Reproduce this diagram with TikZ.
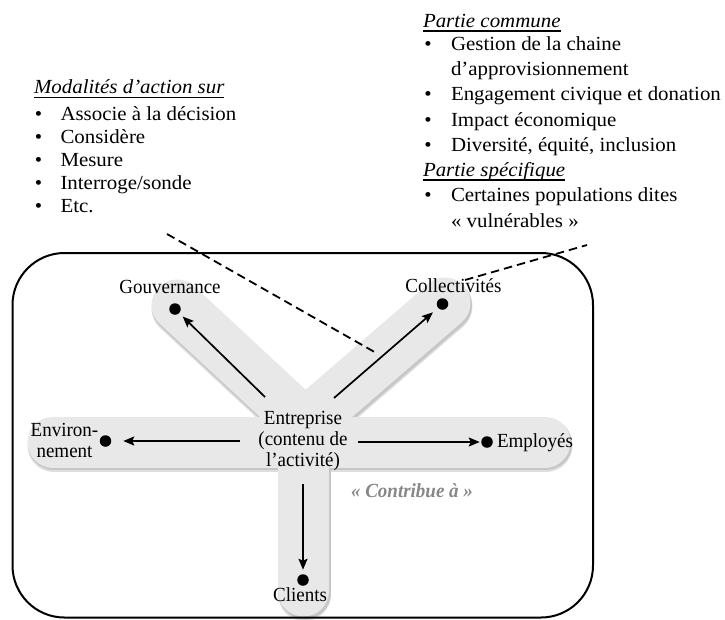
\documentclass[tikz,border=0pt]{standalone}
\usepackage{fontspec}
\setmainfont{Liberation Serif}
\newfontfamily\listfont[FakeStretch=1.045]{Liberation Serif}
\newfontfamily\lblfont[FakeStretch=0.95]{Liberation Serif}
\usetikzlibrary{arrows.meta}
\definecolor{yfill}{RGB}{232,232,232}
\definecolor{shA}{RGB}{222,222,222}
\definecolor{shB}{RGB}{198,198,198}
\definecolor{cgray}{RGB}{135,135,135}
\newcommand{\hdul}[1]{\setbox0\hbox{#1}\rlap{\rule[-4.5pt]{\wd0}{1.2pt}}\box0}
\begin{document}
\begin{tikzpicture}[x=1pt,y=-1pt,
  lst/.style={anchor=base west, inner sep=0pt, outer sep=0pt, font=\listfont\fontsize{20}{23}\selectfont},
  bul/.style={anchor=base, inner sep=0pt, outer sep=0pt, font=\listfont\fontsize{20}{23}\selectfont},
  lbl/.style={inner sep=0pt, outer sep=0pt, font=\lblfont\fontsize{20}{21}\selectfont},
  dotn/.style={circle, fill=black, inner sep=0pt, outer sep=0pt, minimum size=11.5pt},
  arr/.style={line width=1.7pt, -{Stealth[length=11pt,width=9pt,inset=2pt]}},
  dsh/.style={line width=1.8pt, dash pattern=on 8.5pt off 5pt},
  arm/.style={line cap=round}
]
\useasboundingbox (0,0) rectangle (725,619);

% ---------- Y shape (shadow layers + fill) ----------
\foreach \dx/\dy/\w/\c in {1/3.5/53/shA, 1/2.2/52/shB, 0/0/51/yfill}{
  \begin{scope}[shift={(\dx,\dy)}]
    \draw[arm, line width=\w pt, draw=\c] (177,305) -- (305,424);
    \draw[arm, line width=\w pt, draw=\c] (445,303) -- (305,424);
    \draw[arm, line width=\w pt, draw=\c] (53,442) -- (545,442);
    \draw[arm, line width=\w pt, draw=\c] (303.5,442) -- (303.5,591);
  \end{scope}
}

% ---------- frame ----------
\draw[line width=2pt, rounded corners=52pt] (12.5,253) rectangle (593,617.5);

% ---------- left list ----------
\node[lst] (hL) at (34,93.5) {\itshape\hdul{Modalités d’action sur}};
\node[bul] (bL1) at (38.5,120.5) {•};
\node[lst] (tL1) at (60.5,120.5) {Associe à la décision};
\node[bul] (bL2) at (38.5,143.5) {•};
\node[lst] (tL2) at (60.5,143.5) {Considère};
\node[bul] (bL3) at (38.5,166.5) {•};
\node[lst] (tL3) at (60.5,166.5) {Mesure};
\node[bul] (bL4) at (38.5,189.5) {•};
\node[lst] (tL4) at (60.5,189.5) {Interroge/sonde};
\node[bul] (bL5) at (38.5,212.5) {•};
\node[lst] (tL5) at (60.5,212.5) {Etc.};

% ---------- right list ----------
\node[lst] (hR1) at (423,27) {\itshape\hdul{Partie commune}};
\node[bul] (bR1) at (428,50.5) {•};
\node[lst] (tR1) at (451,50.5) {Gestion de la chaine};
\node[lst] (tR1b) at (451,75) {d’approvisionnement};
\node[bul] (bR2) at (428,100) {•};
\node[lst] (tR2) at (451,100) {Engagement civique et donation};
\node[bul] (bR3) at (428,126) {•};
\node[lst] (tR3) at (451,126) {Impact économique};
\node[bul] (bR4) at (428,151.5) {•};
\node[lst] (tR4) at (451,151.5) {Diversité, équité, inclusion};
\node[lst] (hR2) at (423,176) {\itshape\hdul{Partie spécifique}};
\node[bul] (bR5) at (428,201) {•};
\node[lst] (tR5) at (451,201) {Certaines populations dites};
\node[lst] (tR5b) at (451,227) {« vulnérables »};

% ---------- diagram labels ----------
\node[lbl, anchor=base] (gov) at (170,293) {Gouvernance};
\node[lbl, anchor=base] (col) at (453.5,292) {Collectivités};
\node[lbl, anchor=base] (env1) at (64.5,436.5) {Environ-};
\node[lbl, anchor=base] (env2) at (64.5,457) {nement};
\node[lbl, anchor=base west] (emp) at (497,447) {Employés};
\node[lbl, anchor=base] (cli) at (300,601) {Clients};
\node[lbl, anchor=base] (ent1) at (303,424.5) {Entreprise};
\node[lbl, anchor=base] (ent2) at (303,445.5) {(contenu de};
\node[lbl, anchor=base] (ent3) at (303,466.5) {l’activité)};
\node[lbl, anchor=base, text=cgray, font=\lblfont\fontsize{20}{21}\selectfont\bfseries\itshape] (contrib) at (412,497) {« Contribue à »};

% ---------- dots ----------
\node[dotn] (dG) at (175,309) {};
\node[dotn] (dC) at (442.5,304) {};
\node[dotn] (dE) at (105.5,441) {};
\node[dotn] (dP) at (487,442) {};
\node[dotn] (dK) at (303,580) {};

% ---------- arrows ----------
\coordinate (aG) at (265,397);
\coordinate (aC) at (334,398);
\coordinate (aE) at (240,441);
\coordinate (aP) at (358,442);
\coordinate (aK) at (303,484);
\draw[arr, shorten >=5pt] (aG) -- (dG);
\draw[arr, shorten >=7pt] (aC) -- (dC);
\draw[arr, shorten >=12pt] (aE) -- (dE);
\draw[arr, shorten >=1.5pt] (aP) -- (dP);
\draw[arr, shorten >=4.5pt] (aK) -- (dK);

% ---------- dashed leaders ----------
\coordinate (l1a) at (167,234);
\coordinate (l1b) at (378,354);
\coordinate (l2a) at (465,280);
\coordinate (l2b) at (587,245);
\draw[dsh] (l1a) -- (l1b);
\draw[dsh] (l2a) -- (l2b);
\end{tikzpicture}
\end{document}
